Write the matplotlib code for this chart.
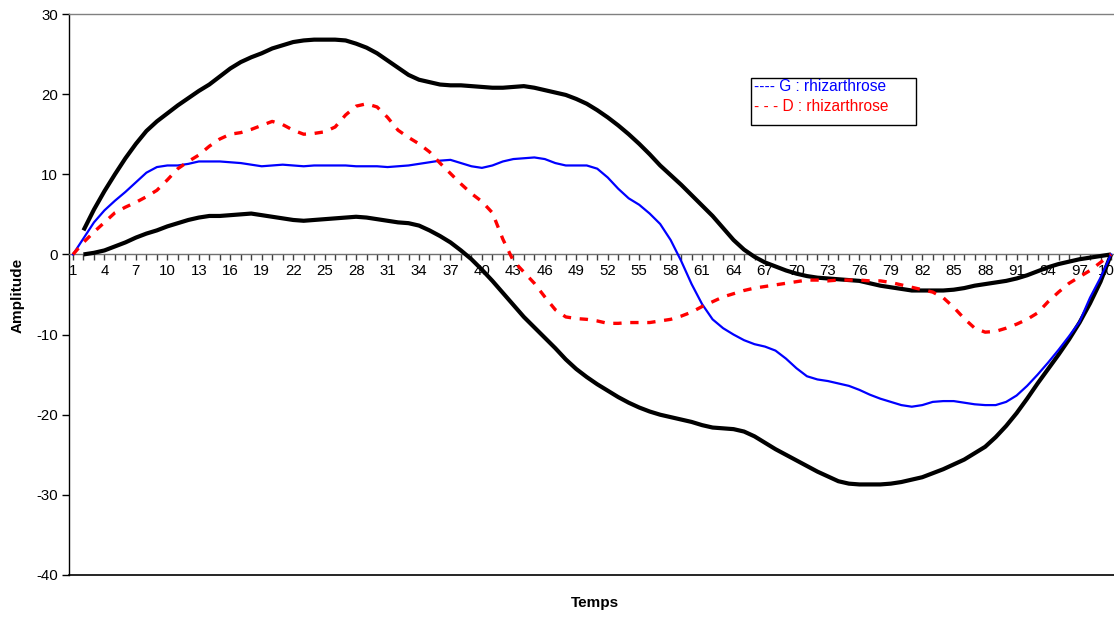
import matplotlib
matplotlib.use("Agg")
import matplotlib.pyplot as plt
from matplotlib.patches import Rectangle
import numpy as np

# ---------------- data ----------------
temps = list(range(1, 101))

upper = [None, 3.0, 5.6, 7.9, 10.0, 12.0, 13.8, 15.4, 16.6, 17.6,
         18.6, 19.5, 20.4, 21.2, 22.2, 23.2, 24.0, 24.6, 25.1, 25.7,
         26.1, 26.5, 26.7, 26.8, 26.8, 26.8, 26.7, 26.3, 25.8, 25.1,
         24.2, 23.3, 22.4, 21.8, 21.5, 21.2, 21.1, 21.1, 21.0, 20.9,
         20.8, 20.8, 20.9, 21.0, 20.8, 20.5, 20.2, 19.9, 19.4, 18.8,
         18.0, 17.1, 16.1, 15.0, 13.8, 12.5, 11.1, 9.9, 8.7, 7.4,
         6.1, 4.8, 3.3, 1.8, 0.6, -0.3, -1.0, -1.5, -2.0, -2.4,
         -2.7, -2.9, -3.0, -3.1, -3.2, -3.3, -3.6, -3.9, -4.1, -4.3,
         -4.5, -4.5, -4.5, -4.5, -4.4, -4.2, -3.9, -3.7, -3.5, -3.3,
         -3.0, -2.6, -2.1, -1.6, -1.2, -0.9, -0.6, -0.4, -0.2, 0.0]

lower = [None, 0.0, 0.2, 0.5, 1.0, 1.5, 2.1, 2.6, 3.0, 3.5,
         3.9, 4.3, 4.6, 4.8, 4.8, 4.9, 5.0, 5.1, 4.9, 4.7,
         4.5, 4.3, 4.2, 4.3, 4.4, 4.5, 4.6, 4.7, 4.6, 4.4,
         4.2, 4.0, 3.9, 3.6, 3.0, 2.3, 1.5, 0.5, -0.6, -1.9,
         -3.3, -4.8, -6.3, -7.8, -9.1, -10.4, -11.7, -13.1, -14.3, -15.3,
         -16.2, -17.0, -17.8, -18.5, -19.1, -19.6, -20.0, -20.3, -20.6, -20.9,
         -21.3, -21.6, -21.7, -21.8, -22.1, -22.7, -23.5, -24.3, -25.0, -25.7,
         -26.4, -27.1, -27.7, -28.3, -28.6, -28.7, -28.7, -28.7, -28.6, -28.4,
         -28.1, -27.8, -27.3, -26.8, -26.2, -25.6, -24.8, -24.0, -22.8, -21.4,
         -19.8, -18.0, -16.1, -14.3, -12.5, -10.6, -8.5, -6.1, -3.4, 0.0]

g_rhiz = [0.0, 2.0, 4.0, 5.5, 6.7, 7.8, 9.0, 10.2, 10.9, 11.1,
          11.1, 11.3, 11.6, 11.6, 11.6, 11.5, 11.4, 11.2, 11.0, 11.1,
          11.2, 11.1, 11.0, 11.1, 11.1, 11.1, 11.1, 11.0, 11.0, 11.0,
          10.9, 11.0, 11.1, 11.3, 11.5, 11.7, 11.8, 11.4, 11.0, 10.8,
          11.1, 11.6, 11.9, 12.0, 12.1, 11.9, 11.4, 11.1, 11.1, 11.1,
          10.7, 9.6, 8.2, 7.0, 6.2, 5.1, 3.8, 1.8, -0.8, -3.7,
          -6.2, -8.1, -9.2, -10.0, -10.7, -11.2, -11.5, -12.0, -13.0, -14.2,
          -15.2, -15.6, -15.8, -16.1, -16.4, -16.9, -17.5, -18.0, -18.4, -18.8,
          -19.0, -18.8, -18.4, -18.3, -18.3, -18.5, -18.7, -18.8, -18.8, -18.4,
          -17.6, -16.4, -15.0, -13.5, -11.9, -10.2, -8.4, -5.4, -2.9, 0.0]

d_rhiz = [0.0, 1.5, 2.8, 4.0, 5.2, 5.9, 6.5, 7.2, 8.0, 9.3,
          10.7, 11.6, 12.4, 13.5, 14.4, 15.0, 15.2, 15.6, 16.1, 16.6,
          16.2, 15.5, 15.0, 15.1, 15.3, 15.9, 17.4, 18.5, 18.8, 18.4,
          17.1, 15.5, 14.6, 13.8, 12.8, 11.4, 10.1, 8.8, 7.6, 6.6,
          5.2, 1.9, -0.8, -2.2, -3.6, -5.3, -6.9, -7.8, -8.0, -8.1,
          -8.3, -8.6, -8.6, -8.5, -8.5, -8.5, -8.3, -8.1, -7.7, -7.2,
          -6.5, -5.9, -5.3, -4.9, -4.5, -4.2, -4.0, -3.8, -3.6, -3.4,
          -3.2, -3.2, -3.3, -3.2, -3.2, -3.2, -3.3, -3.3, -3.5, -3.8,
          -4.1, -4.4, -4.7, -5.4, -6.6, -8.0, -9.2, -9.7, -9.6, -9.2,
          -8.7, -8.1, -7.3, -5.9, -4.7, -3.6, -2.8, -2.0, -1.0, 0.0]

legend_labels = ["---- G : rhizarthrose", "- - - D : rhizarthrose"]
legend_colors = ['#0000ff', '#ff0000']
y_ticks = [-40, -30, -20, -10, 0, 10, 20, 30]
x_label_ticks = list(range(1, 101, 3))

# ---------------- plot ----------------
plt.rcParams['font.family'] = ['Liberation Sans', 'DejaVu Sans']

W, H = 1114, 617
fig = plt.figure(figsize=(W / 100, H / 100), dpi=100)
ax = fig.add_axes([69 / W, (H - 575) / H, (W - 69) / W, (575 - 14) / H])

def arr(v):
    return np.array([np.nan if x is None else x for x in v], dtype=float)

x = np.array(temps)
ax.plot(x, arr(upper), color='black', lw=3.0, solid_capstyle='butt',
        solid_joinstyle='round', zorder=3)
ax.plot(x, arr(lower), color='black', lw=3.0, solid_capstyle='butt',
        solid_joinstyle='round', zorder=3)
ax.plot(x, arr(g_rhiz), color='#0000ff', lw=1.6, solid_joinstyle='round', zorder=4)
ax.plot(x, arr(d_rhiz), color='#ff0000', lw=2.4, linestyle=(0, (2.5, 2.6)), zorder=4)

ax.set_ylim(-40, 30)
ax.set_xlim(1 - 4 / 10.485, 100 + 3 / 10.485)

# spines
ax.spines['right'].set_visible(False)
ax.spines['top'].set_color('#808080')
ax.spines['top'].set_linewidth(1.0)
ax.spines['left'].set_color('black')
ax.spines['left'].set_linewidth(1.0)
ax.spines['bottom'].set_position(('data', 0))
ax.spines['bottom'].set_color('#707070')
ax.spines['bottom'].set_linewidth(1.0)
ax.axhline(-40, color='black', lw=1.2, clip_on=False, zorder=5)

ax.set_yticks(y_ticks)
ax.set_yticklabels([str(v) for v in y_ticks])
ax.tick_params(axis='y', direction='out', length=5, width=1, pad=3,
               labelsize=10.8, colors='black')

ax.set_xticks(x_label_ticks)
ax.set_xticklabels([str(v) for v in x_label_ticks])
ax.set_xticks(temps, minor=True)
ax.tick_params(axis='x', which='major', direction='out', length=4, width=1,
               pad=3, labelsize=10.8, color='#404040')
ax.tick_params(axis='x', which='minor', direction='out', length=4, width=1,
               color='#404040')

fig.text(595 / W, 1 - 603 / H, "Temps", ha='center', va='center',
         fontsize=11, fontweight='bold')
fig.text(18 / W, 1 - 295 / H, "Amplitude", ha='center', va='center',
         rotation=90, fontsize=11, fontweight='bold')

# legend box (manual, text-only entries as in the reference)
fig.patches.append(Rectangle((751 / W, 1 - 125 / H), (916 - 751) / W, (125 - 77.5) / H,
                             transform=fig.transFigure, facecolor='white',
                             edgecolor='black', lw=1.0, zorder=6))
for k, (lab, col) in enumerate(zip(legend_labels, legend_colors)):
    fig.text(754 / W, 1 - (86.7 + 20 * k) / H, lab, color=col, fontsize=11.2,
             ha='left', va='center', zorder=7)

fig.savefig("out.png", dpi=100)
